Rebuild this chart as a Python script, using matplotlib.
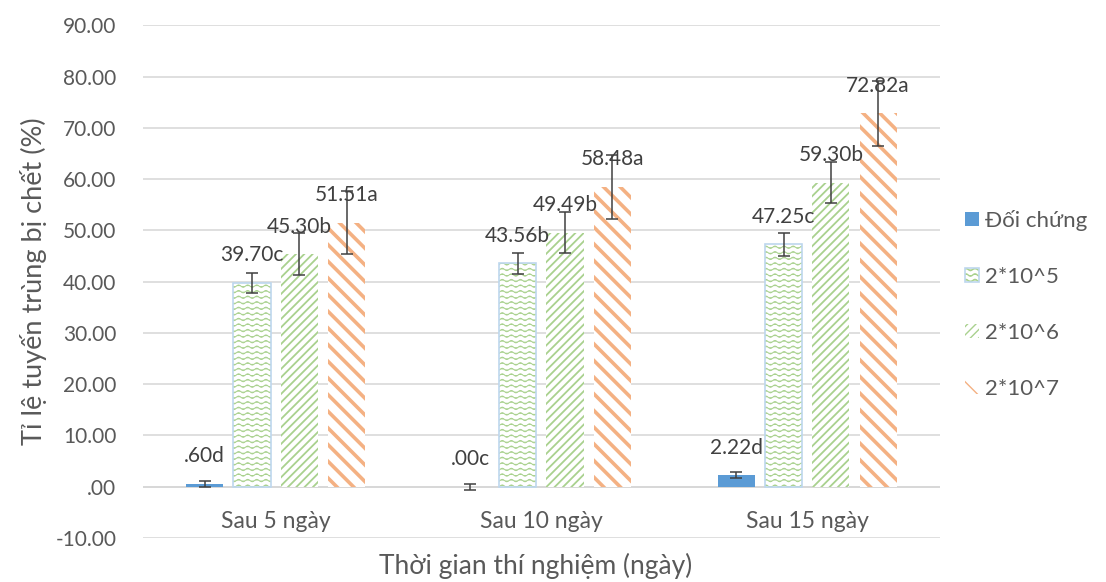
import warnings
import numpy as np
import matplotlib
matplotlib.use("Agg")
import matplotlib.pyplot as plt
from matplotlib import hatch as mhatch
from matplotlib.path import Path
from matplotlib.ticker import FuncFormatter
from matplotlib.legend_handler import HandlerTuple

warnings.filterwarnings("ignore")

categories = ["Sau 5 ngày", "Sau 10 ngày", "Sau 15 ngày"]
series = ["Đối chứng", "2*10^5", "2*10^6", "2*10^7"]
doi_chung = [0.60, 0.00, 2.22]
d_10_5 = [39.70, 43.56, 47.25]
d_10_6 = [45.30, 49.49, 59.30]
d_10_7 = [51.51, 58.48, 72.82]
err_dc = [0.6, 0.6, 0.6]
err_10_5 = [2.0, 2.0, 2.2]
err_10_6 = [4.1, 4.0, 4.0]
err_10_7 = [6.1, 6.2, 6.3]
letters_dc = ["d", "c", "d"]
letters_10_5 = ["c", "b", "c"]
letters_10_6 = ["b", "b", "b"]
letters_10_7 = ["a", "a", "a"]


# wavy hatch pattern ("~"), like the Excel "wave" fill
class WavyHatch(mhatch.HatchPatternBase):
    def __init__(self, hatch, density):
        self.num_lines = int(hatch.count("~") * density)
        self.npts = 89
        self.num_vertices = self.num_lines * self.npts

    def set_vertices_and_codes(self, vertices, codes):
        xs = np.linspace(0, 1, self.npts)
        for i in range(self.num_lines):
            y0 = (i + 0.5) / self.num_lines
            ys = y0 + 0.012 * np.sin(2 * np.pi * 11 * xs)
            sl = slice(i * self.npts, (i + 1) * self.npts)
            vertices[sl, 0] = xs
            vertices[sl, 1] = ys
            codes[sl] = Path.LINETO
            codes[i * self.npts] = Path.MOVETO


mhatch._hatch_types.append(WavyHatch)

plt.rcParams["font.family"] = ["Lato", "Noto Sans", "DejaVu Sans"]

fig = plt.figure(figsize=(11.06, 5.82), dpi=100)
ax = fig.add_axes([0.129, 0.0756, 0.721, 0.881])

x = np.arange(len(categories))
step = 0.178
w = 0.14
grey = "#595959"
ebar = dict(ecolor="#404040", elinewidth=1.1, capsize=4, capthick=1.1)

# control
b0 = ax.bar(x - 1.5 * step, doi_chung, w, color="#5B9BD5",
            yerr=err_dc, error_kw=ebar, zorder=3)

# 2*10^5 - wave pattern with light blue border
with plt.rc_context({"hatch.linewidth": 0.7}):
    b1 = ax.bar(x - 0.5 * step, d_10_5, w, facecolor="white",
                edgecolor="#A9D18E", linewidth=0, hatch="~~~", zorder=3)
b1e = ax.bar(x - 0.5 * step, d_10_5, w, facecolor="none", edgecolor="#BDD7EE",
             linewidth=1.2, yerr=err_10_5, error_kw=ebar, zorder=4)

# 2*10^6 - dense upward diagonal
with plt.rc_context({"hatch.linewidth": 1.3}):
    b2 = ax.bar(x + 0.5 * step, d_10_6, w, facecolor="white",
                edgecolor="#A9D18E", linewidth=0, hatch="////",
                yerr=err_10_6, error_kw=ebar, zorder=3)

# 2*10^7 - wide downward diagonal
with plt.rc_context({"hatch.linewidth": 2.6}):
    b3 = ax.bar(x + 1.5 * step, d_10_7, w, facecolor="white",
                edgecolor="#F4B183", linewidth=0, hatch="\\\\",
                yerr=err_10_7, error_kw=ebar, zorder=3)


def fmt(v):
    s = f"{v:.2f}"
    if s.startswith("0."):
        s = s[1:]
    elif s.startswith("-0."):
        s = "-" + s[2:]
    return s


all_vals = [doi_chung, d_10_5, d_10_6, d_10_7]
all_letters = [letters_dc, letters_10_5, letters_10_6, letters_10_7]
for k, (vals, lets) in enumerate(zip(all_vals, all_letters)):
    for i, (v, l) in enumerate(zip(vals, lets)):
        ax.annotate(fmt(v) + l, (x[i] + (k - 1.5) * step, v),
                    xytext=(0, 20), textcoords="offset points",
                    ha="center", va="center", fontsize=15, color="#404040",
                    zorder=6)

ax.set_xlim(-0.5, 2.5)
ax.set_ylim(-10, 90)
ax.set_yticks(np.arange(-10, 91, 10))
ax.yaxis.set_major_formatter(FuncFormatter(lambda v, p: fmt(v)))
ax.tick_params(axis="y", length=0, labelsize=15, labelcolor=grey, pad=19)
ax.set_xticks([])
ax.grid(axis="y", color="#D9D9D9", linewidth=1.2, zorder=0)
ax.axhline(0, color="#D0D0D0", linewidth=1.2, zorder=1)
for s in ax.spines.values():
    s.set_visible(False)

for i, c in enumerate(categories):
    ax.text(x[i], -6.8, c, ha="center", va="center", fontsize=16.5, color=grey)

ax.set_ylabel("Tỉ lệ tuyến trùng bị chết (%)", fontsize=19.5, color=grey,
              labelpad=6)
fig.text(0.484, 0.028, "Thời gian thí nghiệm (ngày)", ha="center",
         va="center", fontsize=19, color=grey)

handles = [b0[0], (b1[0], b1e[0]), b2[0], b3[0]]
leg = ax.legend(handles, series, loc="center left",
                bbox_to_anchor=(1.012, 0.455), frameon=False,
                fontsize=16, labelcolor=grey, handlelength=0.6,
                handleheight=0.6, handletextpad=0.3, labelspacing=1.62,
                borderpad=0.2, handler_map={tuple: HandlerTuple(ndivide=1)})

fig.savefig("out.png", dpi=100)
